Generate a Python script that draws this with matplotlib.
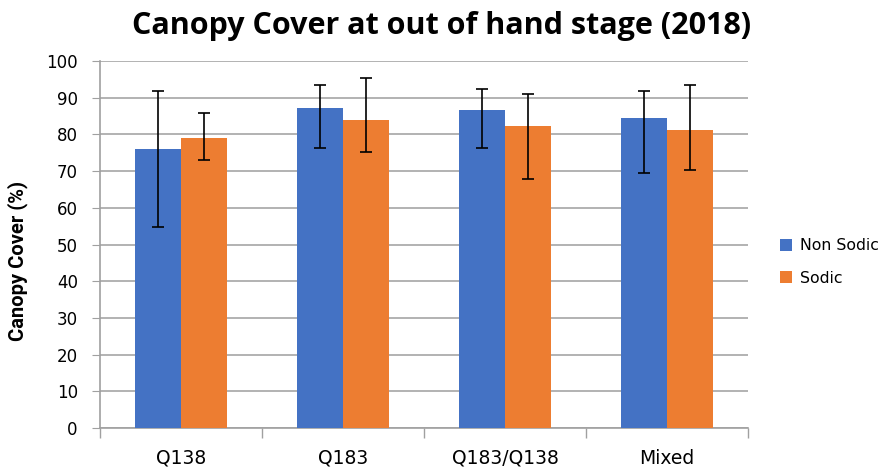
import numpy as np
import matplotlib.pyplot as plt
from matplotlib.ticker import FixedLocator

categories = ['Q138', 'Q183', 'Q183/Q138', 'Mixed']
non_sodic = [76.1, 87.2, 86.6, 84.4]
non_sodic_lo = [21.2, 10.8, 10.2, 15.0]
non_sodic_hi = [15.8, 6.3, 5.8, 7.4]
sodic = [78.9, 84.0, 82.4, 81.2]
sodic_lo = [6.0, 8.9, 14.6, 10.9]
sodic_hi = [7.0, 11.4, 8.5, 12.3]

blue = '#4472C4'
orange = '#ED7D31'

fig = plt.figure(figsize=(8.87, 4.68), dpi=100)
ax = fig.add_axes([100/887, 1 - 428/468, 648/887, 367/468])

x = np.arange(len(categories))
w = 0.285
ax.bar(x - w/2, non_sodic, w, color=blue, label='Non Sodic', zorder=3,
       yerr=[non_sodic_lo, non_sodic_hi], capsize=4,
       error_kw=dict(ecolor='black', elinewidth=1.2, capthick=1.2, zorder=4))
ax.bar(x + w/2, sodic, w, color=orange, label='Sodic', zorder=3,
       yerr=[sodic_lo, sodic_hi], capsize=4,
       error_kw=dict(ecolor='black', elinewidth=1.2, capthick=1.2, zorder=4))

ax.set_xlim(-0.5, len(categories) - 0.5)
ax.set_ylim(0, 100)
ax.set_yticks(range(0, 101, 10))
ax.set_xticks(x)
ax.set_xticklabels(categories, fontsize=13.5, family='DejaVu Sans')
ax.xaxis.set_minor_locator(FixedLocator(np.arange(-0.5, len(categories), 1)))
ax.tick_params(axis='x', which='major', length=0, pad=15)
ax.tick_params(axis='x', which='minor', length=7, color='#a0a0a0', width=1)
ax.tick_params(axis='y', length=6, color='#a0a0a0', labelsize=12, pad=10)
for lab in ax.get_yticklabels():
    lab.set_family('DejaVu Sans')

ax.grid(axis='y', color='#a6a6a6', linewidth=1.2, zorder=0)
for s in ['top', 'right']:
    ax.spines[s].set_visible(False)
for s in ['left', 'bottom']:
    ax.spines[s].set_color('#a0a0a0')
    ax.spines[s].set_linewidth(1.2)

fig.text(18/887, 1 - 261/468, 'Canopy Cover (%)', rotation=90, ha='center', va='center',
         fontsize=14.5, fontweight='bold', family='Roboto')
fig.text(0.498, 1 - 26/468, 'Canopy Cover at out of hand stage (2018)',
         ha='center', va='center', fontsize=22, fontweight='bold', family='Open Sans')

fig.legend(loc='center left', bbox_to_anchor=(766/887, 1 - 262/468), frameon=False,
           prop={'family': 'DejaVu Sans', 'size': 11.3},
           handlelength=0.75, handleheight=0.75, handletextpad=0.5, labelspacing=1.1)

fig.savefig('out.png', dpi=100)
